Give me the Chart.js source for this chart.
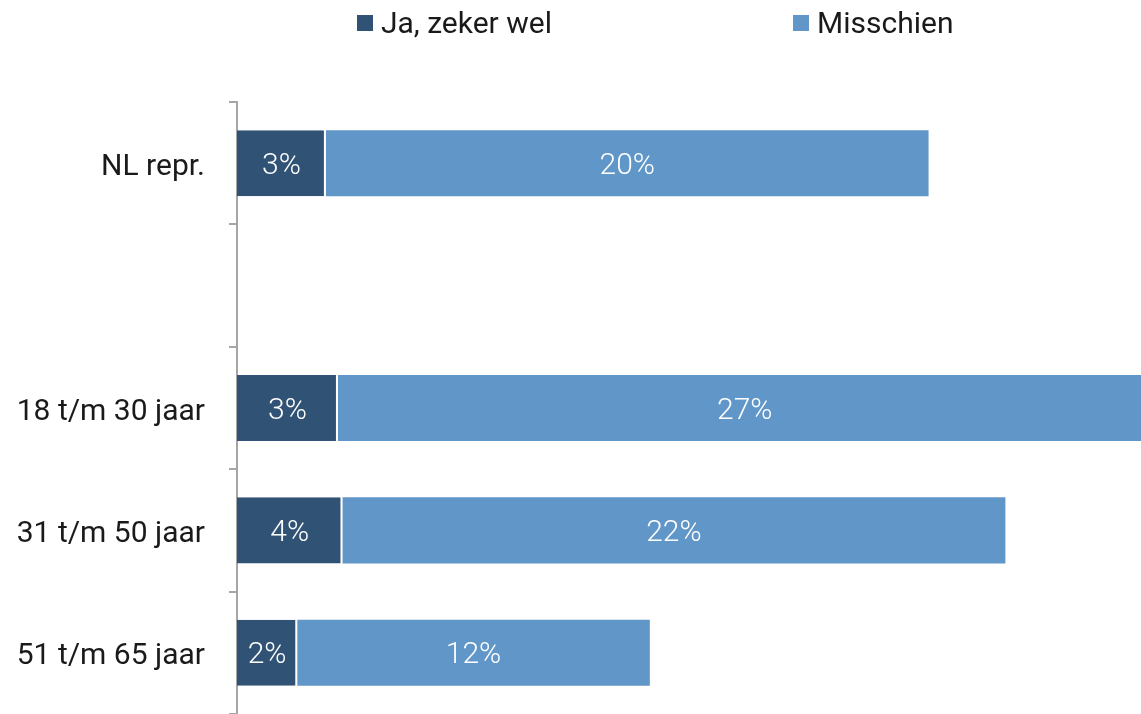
<!DOCTYPE html>
<html>
<head>
<meta charset="utf-8">
<script src="https://cdn.jsdelivr.net/npm/chart.js@4.4.1/dist/chart.umd.min.js"></script>
<style>
  html, body { margin: 0; padding: 0; background: #ffffff; }
  #wrap { position: relative; width: 1141px; height: 714px; overflow: hidden; }
  #chart { position: absolute; left: 0; top: 0; }
  #legend { position: absolute; top: 6px; left: 0; width: 1141px; height: 34px;
    font-family: Roboto, "Liberation Sans", Arial, sans-serif; font-size: 30px; color: #1a1a1a; }
  .item { position: absolute; top: 0; height: 34px; line-height: 34px; white-space: nowrap; }
  .box { display: inline-block; width: 16px; height: 16px; margin-right: 8px; vertical-align: 2px; }
</style>
</head>
<body>
<div id="wrap">
  <canvas id="chart" width="1141" height="714"></canvas>
  <div id="legend"></div>
</div>
<script>
// ---- data ----
const categories = ["NL repr.", "", "18 t/m 30 jaar", "31 t/m 50 jaar", "51 t/m 65 jaar"];
const seriesNames = ["Ja, zeker wel", "Misschien"];
const jaZekerWel = [2.95, null, 3.35, 3.5, 2.0];
const misschien = [20.0, null, 27.0, 22.0, 11.7];
const seriesColors = ["#305275", "#6096C8"];
const legendX = [357, 793];
const xMax = 30;

const FONT = 'Roboto, "Liberation Sans", Arial, sans-serif';

// HTML legend built from series names/colours
const legendEl = document.getElementById('legend');
seriesNames.forEach((name, i) => {
  const it = document.createElement('div');
  it.className = 'item';
  it.style.left = legendX[i] + 'px';
  const b = document.createElement('span');
  b.className = 'box';
  b.style.background = seriesColors[i];
  it.appendChild(b);
  it.appendChild(document.createTextNode(name));
  legendEl.appendChild(it);
});

const valueLabels = {
  id: 'valueLabels',
  afterDatasetsDraw(chart) {
    const ctx = chart.ctx;
    ctx.save();
    ctx.font = '300 30px ' + FONT;
    ctx.fillStyle = '#ffffff';
    ctx.textAlign = 'center';
    ctx.textBaseline = 'middle';
    chart.data.datasets.forEach((ds, di) => {
      const meta = chart.getDatasetMeta(di);
      meta.data.forEach((el, i) => {
        const v = ds.data[i];
        if (v === null || v === undefined) return;
        const c = el.getCenterPoint();
        ctx.fillText(Math.round(v) + '%', c.x, c.y + 3);
      });
    });
    ctx.restore();
  }
};

new Chart(document.getElementById('chart'), {
  type: 'bar',
  data: {
    labels: categories,
    datasets: [
      { label: seriesNames[0], data: jaZekerWel, backgroundColor: seriesColors[0],
        borderColor: '#ffffff', borderWidth: { left: 0, top: 0, bottom: 0, right: 2 }, borderSkipped: false },
      { label: seriesNames[1], data: misschien, backgroundColor: seriesColors[1],
        borderColor: '#ffffff', borderWidth: 0, borderSkipped: false }
    ]
  },
  options: {
    indexAxis: 'y',
    responsive: false,
    animation: false,
    maintainAspectRatio: false,
    layout: { padding: { top: 102, right: 0, bottom: 0, left: 0 } },
    categoryPercentage: 0.54,
    barPercentage: 1.0,
    plugins: { legend: { display: false }, tooltip: { enabled: false } },
    scales: {
      x: { stacked: true, display: false, min: 0, max: xMax },
      y: {
        stacked: true,
        afterFit(scale) { scale.width = 237; scale.paddingTop = 0; scale.paddingBottom = 0; },
        grid: { offset: true, drawOnChartArea: false, drawTicks: true, tickLength: 8,
                color: '#a6a6a6', lineWidth: 2 },
        border: { display: true, color: '#a6a6a6', width: 2 },
        ticks: { color: '#1a1a1a', padding: 24, labelOffset: 4, font: { family: FONT, size: 30 } }
      }
    }
  },
  plugins: [valueLabels]
});
</script>
</body>
</html>
